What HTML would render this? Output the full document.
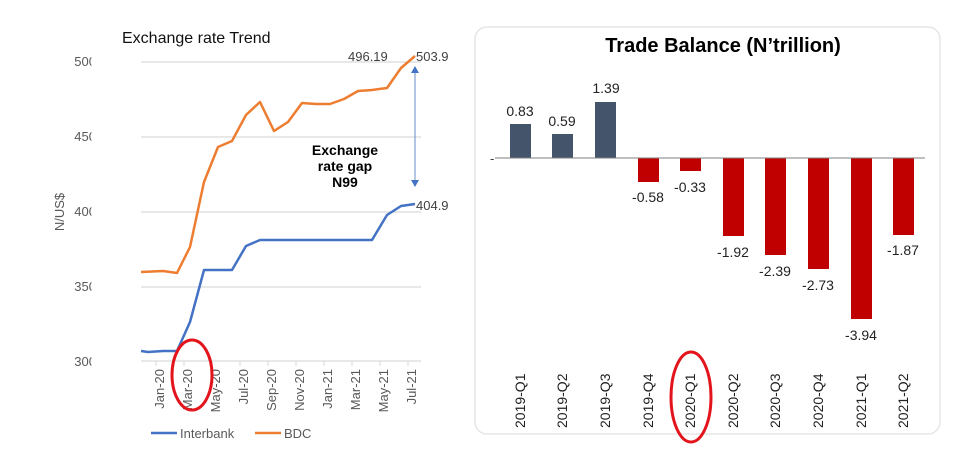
<!DOCTYPE html>
<html><head><style>body{margin:0;background:#fff}svg text{font-family:"Liberation Sans",sans-serif}</style></head><body>
<svg width="961" height="450" xmlns="http://www.w3.org/2000/svg">
<rect width="961" height="450" fill="#fff"/>
<text x="122" y="43" font-size="16" fill="#111">Exchange rate Trend</text>
<g stroke="#d9d9d9" stroke-width="1.2">
<line x1="141" y1="62" x2="421" y2="62"/><line x1="141" y1="137" x2="421" y2="137"/><line x1="141" y1="212" x2="421" y2="212"/><line x1="141" y1="287" x2="421" y2="287"/><line x1="141" y1="361" x2="421" y2="361"/>
</g>
<g stroke="#d9d9d9"><line x1="156" y1="361" x2="156" y2="366"/><line x1="184" y1="361" x2="184" y2="366"/><line x1="212" y1="361" x2="212" y2="366"/><line x1="240" y1="361" x2="240" y2="366"/><line x1="268" y1="361" x2="268" y2="366"/><line x1="296" y1="361" x2="296" y2="366"/><line x1="324" y1="361" x2="324" y2="366"/><line x1="352" y1="361" x2="352" y2="366"/><line x1="380" y1="361" x2="380" y2="366"/><line x1="408" y1="361" x2="408" y2="366"/></g>
<g font-size="13" fill="#595959" text-anchor="end"><text x="96" y="66">500</text><text x="96" y="141">450</text><text x="96" y="216">400</text><text x="96" y="291">350</text><text x="96" y="366">300</text></g>
<rect x="91.5" y="50" width="10" height="330" fill="#fff"/>
<text transform="translate(64,212) rotate(-90)" font-size="13" fill="#595959" text-anchor="middle">N/US$</text>
<g font-size="13" fill="#595959" text-anchor="end">
<text transform="translate(164,369) rotate(-90)">Jan-20</text><text transform="translate(192,369) rotate(-90)">Mar-20</text><text transform="translate(220,369) rotate(-90)">May-20</text><text transform="translate(248,369) rotate(-90)">Jul-20</text><text transform="translate(276,369) rotate(-90)">Sep-20</text><text transform="translate(304,369) rotate(-90)">Nov-20</text><text transform="translate(332,369) rotate(-90)">Jan-21</text><text transform="translate(360,369) rotate(-90)">Mar-21</text><text transform="translate(388,369) rotate(-90)">May-21</text><text transform="translate(416,369) rotate(-90)">Jul-21</text></g>
<polyline fill="none" stroke="#ed7d31" stroke-width="2.5" stroke-linejoin="round" points="141,272 163,271 177,273 190,247 204,182 218,147 232,141 246,115 260,102 274,131 288,122 302,103 316,104 330,104 344,99 358,91 372,90 387,88 401,68 415,56"/>
<polyline fill="none" stroke="#4472c4" stroke-width="2.5" stroke-linejoin="round" points="141,351 148,352 163,351 177,351 190,322 204,270 218,270 232,270 246,246 260,240 274,240 372,240 387,215 401,206 415,204"/>
<text x="348" y="61" font-size="13" fill="#404040">496.19</text>
<text x="416" y="61" font-size="13" fill="#404040">503.9</text>
<text x="416" y="210" font-size="13" fill="#404040">404.9</text>
<line x1="415" y1="72" x2="415" y2="180" stroke="#6a8cc8" stroke-width="1"/>
<path d="M411,73 L415,66 L419,73Z M411,180 L415,187 L419,180Z" fill="#4472c4"/>
<g font-size="14" font-weight="bold" text-anchor="middle" fill="#000"><text x="345" y="155">Exchange</text><text x="345" y="171">rate gap</text><text x="345" y="187">N99</text></g>
<line x1="151" y1="433" x2="177" y2="433" stroke="#4472c4" stroke-width="2.5"/><text x="180" y="438" font-size="13" fill="#595959">Interbank</text>
<line x1="255" y1="433" x2="281" y2="433" stroke="#ed7d31" stroke-width="2.5"/><text x="284" y="438" font-size="13" fill="#595959">BDC</text>
<ellipse cx="192" cy="375" rx="20" ry="35" fill="none" stroke="#e3141c" stroke-width="3"/>
<rect x="475" y="27" width="465" height="407" rx="12" fill="none" stroke="#e6e6e6" stroke-width="1.5"/>
<text x="723" y="52" font-size="20" font-weight="bold" text-anchor="middle" fill="#000">Trade Balance (N’trillion)</text>
<g fill="#44546a"><rect x="510" y="124" width="21" height="34"/><rect x="552" y="134" width="21" height="24"/><rect x="595" y="102" width="21" height="56"/></g>
<g fill="#c00000"><rect x="638" y="158" width="21" height="24"/><rect x="680" y="158" width="21" height="13"/><rect x="723" y="158" width="21" height="78"/><rect x="765" y="158" width="21" height="97"/><rect x="808" y="158" width="21" height="111"/><rect x="851" y="158" width="21" height="161"/><rect x="893" y="158" width="21" height="77"/></g>
<line x1="495" y1="158" x2="925" y2="158" stroke="#7f7f7f" stroke-width="1"/>
<text x="490" y="163" font-size="13" fill="#404040">-</text>
<g font-size="14" text-anchor="middle" fill="#222"><text x="520" y="116">0.83</text><text x="562" y="126">0.59</text><text x="606" y="93">1.39</text><text x="648" y="202">-0.58</text><text x="690" y="192">-0.33</text><text x="733" y="257">-1.92</text><text x="775" y="276">-2.39</text><text x="818" y="290">-2.73</text><text x="861" y="340">-3.94</text><text x="903" y="255">-1.87</text></g>
<g font-size="14" text-anchor="start" fill="#222">
<text transform="translate(525,428) rotate(-90)">2019-Q1</text><text transform="translate(567,428) rotate(-90)">2019-Q2</text><text transform="translate(610,428) rotate(-90)">2019-Q3</text><text transform="translate(653,428) rotate(-90)">2019-Q4</text><text transform="translate(695,428) rotate(-90)">2020-Q1</text><text transform="translate(738,428) rotate(-90)">2020-Q2</text><text transform="translate(780,428) rotate(-90)">2020-Q3</text><text transform="translate(823,428) rotate(-90)">2020-Q4</text><text transform="translate(866,428) rotate(-90)">2021-Q1</text><text transform="translate(908,428) rotate(-90)">2021-Q2</text></g>
<ellipse cx="691" cy="397" rx="20" ry="45" fill="none" stroke="#e3141c" stroke-width="3"/>
</svg>
</body></html>
